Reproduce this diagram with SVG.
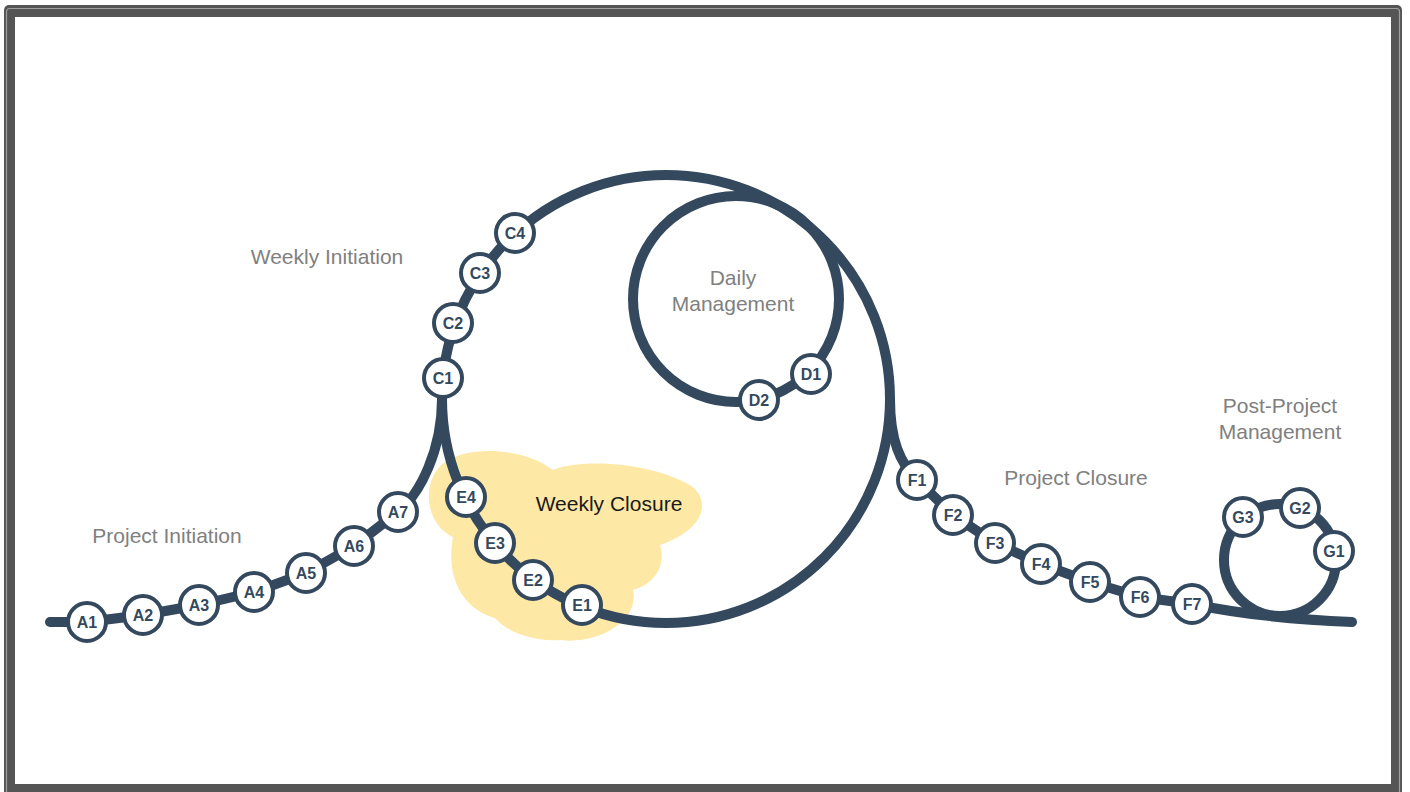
<svg xmlns="http://www.w3.org/2000/svg" width="1410" height="792" viewBox="0 0 1410 792">
<style>
.track{fill:none;stroke:#34495e;stroke-width:10;stroke-linecap:round;stroke-linejoin:round}
.node circle{fill:#ffffff;stroke:#34495e;stroke-width:4}
.node text{font-family:"Liberation Sans",Arial,sans-serif;font-weight:bold;font-size:16px;fill:#34495e;text-anchor:middle}
.lbl{font-family:"Liberation Sans",Arial,sans-serif;font-size:21px;fill:#808080;text-anchor:middle}
</style>
<rect x="0" y="0" width="1410" height="792" fill="#ffffff"/>
<g id="frame">
<rect x="4" y="5" width="1398" height="796" rx="5" fill="#555555"/>
<rect x="6.5" y="8.5" width="1393" height="800" rx="3" fill="none" stroke="#a0a0a0" stroke-width="1.2"/>
<rect x="15" y="17" width="1376" height="767" fill="#ffffff"/>
</g>
<g id="weekly-closure">
<path d="M453,537 C425,525 420,480 445,462 C470,445 525,448 553,470 C580,458 650,462 690,485 C712,500 705,530 660,545 C665,560 660,582 633,590 C640,620 600,645 560,640 C530,642 505,630 495,618 C465,610 445,580 453,537 Z" fill="#fde8a6"/>
<text x="609" y="511" font-family="'Liberation Sans',Arial,sans-serif" font-size="21" fill="#1a1a1a" text-anchor="middle">Weekly Closure</text>
</g>
<g id="connectors">
<circle class="track" cx="666" cy="399" r="224"/>
<circle class="track" cx="736" cy="299" r="103"/>
<circle class="track" cx="1280" cy="560" r="56"/>
<path class="track" d="M50,622 L87,622 L143,615 L199,605 L254,592 L306,573 L354,546 L398,512 C420,494 442,450 442,399"/>
<path class="track" d="M890,399 C890,440 900,463 917,480 L953,515 L995,543 L1041,564 L1090,582 L1140,597 L1192,604 C1240,614 1300,620 1352,622"/>
</g>
<g id="labels">
<text class="lbl" x="327" y="264">Weekly Initiation</text>
<text class="lbl" x="167" y="543">Project Initiation</text>
<text class="lbl" x="733" y="285">Daily</text>
<text class="lbl" x="733" y="311">Management</text>
<text class="lbl" x="1076" y="485">Project Closure</text>
<text class="lbl" x="1280" y="413">Post-Project</text>
<text class="lbl" x="1280" y="439">Management</text>
</g>
<g id="A1" class="node"><circle cx="87" cy="622" r="19"/><text x="87" y="628">A1</text></g>
<g id="A2" class="node"><circle cx="143" cy="615" r="19"/><text x="143" y="621">A2</text></g>
<g id="A3" class="node"><circle cx="199" cy="605" r="19"/><text x="199" y="611">A3</text></g>
<g id="A4" class="node"><circle cx="254" cy="592" r="19"/><text x="254" y="598">A4</text></g>
<g id="A5" class="node"><circle cx="306" cy="573" r="19"/><text x="306" y="579">A5</text></g>
<g id="A6" class="node"><circle cx="354" cy="546" r="19"/><text x="354" y="552">A6</text></g>
<g id="A7" class="node"><circle cx="398" cy="512" r="19"/><text x="398" y="518">A7</text></g>
<g id="C1" class="node"><circle cx="443" cy="378" r="19"/><text x="443" y="384">C1</text></g>
<g id="C2" class="node"><circle cx="453" cy="323" r="19"/><text x="453" y="329">C2</text></g>
<g id="C3" class="node"><circle cx="480" cy="273" r="19"/><text x="480" y="279">C3</text></g>
<g id="C4" class="node"><circle cx="515" cy="233" r="19"/><text x="515" y="239">C4</text></g>
<g id="D1" class="node"><circle cx="811" cy="374" r="19"/><text x="811" y="380">D1</text></g>
<g id="D2" class="node"><circle cx="759" cy="400" r="19"/><text x="759" y="406">D2</text></g>
<g id="E1" class="node"><circle cx="582" cy="605" r="19"/><text x="582" y="611">E1</text></g>
<g id="E2" class="node"><circle cx="533" cy="580" r="19"/><text x="533" y="586">E2</text></g>
<g id="E3" class="node"><circle cx="495" cy="543" r="19"/><text x="495" y="549">E3</text></g>
<g id="E4" class="node"><circle cx="466" cy="497" r="19"/><text x="466" y="503">E4</text></g>
<g id="F1" class="node"><circle cx="917" cy="480" r="19"/><text x="917" y="486">F1</text></g>
<g id="F2" class="node"><circle cx="953" cy="515" r="19"/><text x="953" y="521">F2</text></g>
<g id="F3" class="node"><circle cx="995" cy="543" r="19"/><text x="995" y="549">F3</text></g>
<g id="F4" class="node"><circle cx="1041" cy="564" r="19"/><text x="1041" y="570">F4</text></g>
<g id="F5" class="node"><circle cx="1090" cy="582" r="19"/><text x="1090" y="588">F5</text></g>
<g id="F6" class="node"><circle cx="1140" cy="597" r="19"/><text x="1140" y="603">F6</text></g>
<g id="F7" class="node"><circle cx="1192" cy="604" r="19"/><text x="1192" y="610">F7</text></g>
<g id="G1" class="node"><circle cx="1334" cy="551" r="19"/><text x="1334" y="557">G1</text></g>
<g id="G2" class="node"><circle cx="1300" cy="508" r="19"/><text x="1300" y="514">G2</text></g>
<g id="G3" class="node"><circle cx="1243" cy="517" r="19"/><text x="1243" y="523">G3</text></g>
</svg>
